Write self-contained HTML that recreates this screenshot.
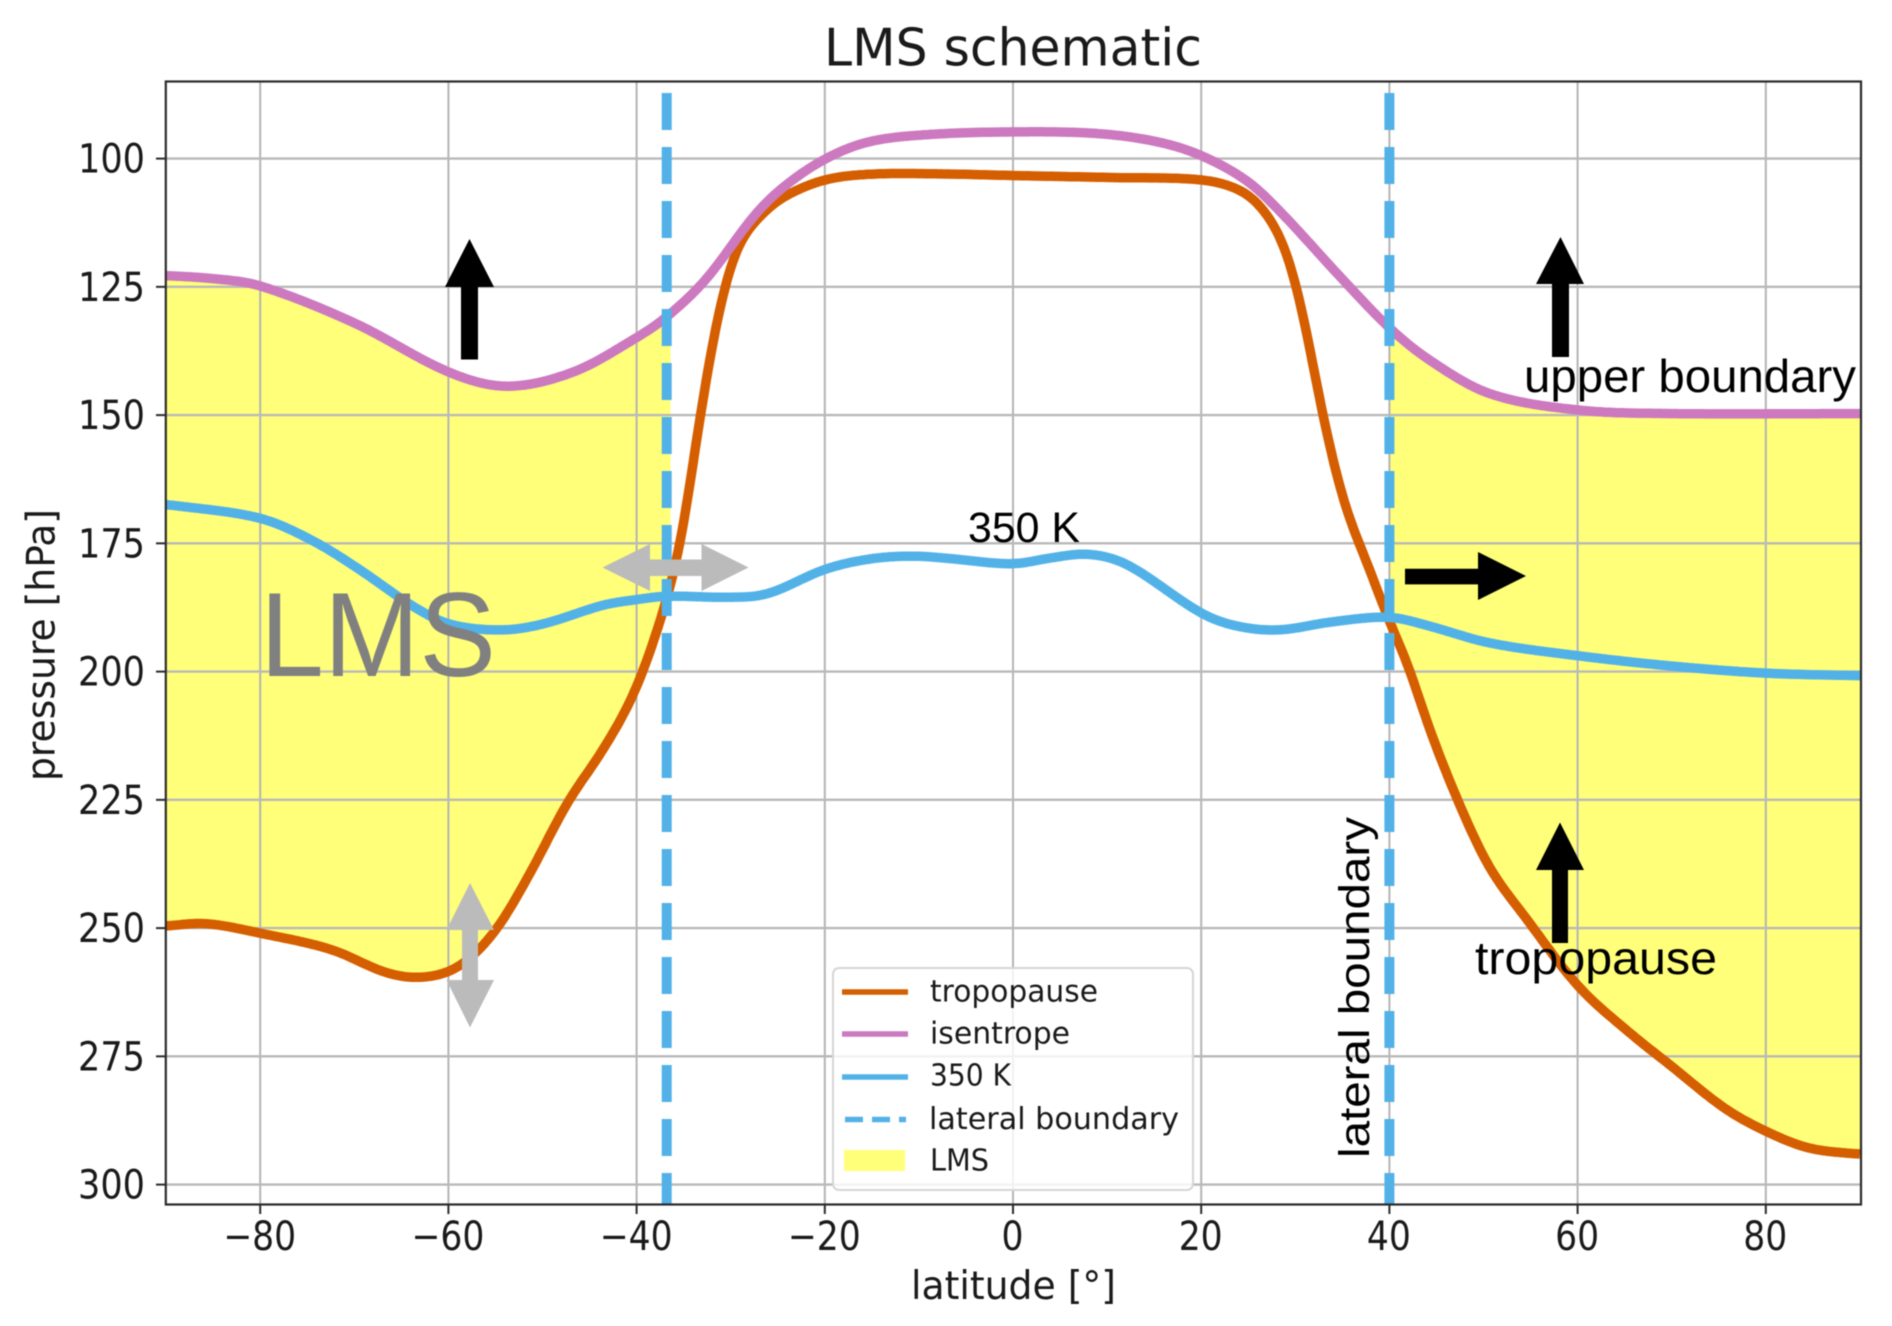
<!DOCTYPE html>
<html lang="en">
<head>
<meta charset="utf-8">
<title>LMS schematic</title>
<style>
  html, body { margin: 0; padding: 0; background: #ffffff; }
  body { width: 1892px; height: 1326px; overflow: hidden; }
  svg { display: block; filter: blur(0.6px); }
  text { font-family: "DejaVu Sans", "Liberation Sans", sans-serif; fill: #1a1a1a; }
  .note { font-family: "Liberation Sans", "DejaVu Sans", sans-serif; fill: #000000; }
</style>
</head>
<body>
<svg id="chart" xmlns="http://www.w3.org/2000/svg" width="1892" height="1326" viewBox="0 0 1892 1326">
  <defs>
    <clipPath id="plot-clip"><rect x="166" y="81" width="1695" height="1124"></rect></clipPath>
  </defs>
  <rect x="0" y="0" width="1892" height="1326" fill="#ffffff"></rect>
  <g id="fills" clip-path="url(#plot-clip)"></g>
  <g id="grid"></g>
  <g id="series" clip-path="url(#plot-clip)"></g>

  <g>
    <polygon fill="#000000" points="469.5,239 494,287 478,287 478,359.5 461,359.5 461,287 445,287"></polygon>
    <polygon fill="#000000" points="1560.5,237 1584,284 1569,284 1569,357 1552,357 1552,284 1536,284"></polygon>
    <polygon fill="#000000" points="1560,822.5 1584,870 1568,870 1568,943 1552,943 1552,870 1536,870"></polygon>
    <polygon fill="#000000" points="1526,576 1478,552 1478,568.7 1405,568.7 1405,584.4 1478,584.4 1478,600"></polygon>
    <polygon fill="#bbbbbb" points="602.5,567.5 650,544 650,559.5 701.5,559.5 701.5,544 748.5,567.5 701.5,591 701.5,576 650,576 650,591"></polygon>
    <polygon fill="#bbbbbb" points="470,883 494,930 478,930 478,980 494,980 470,1027.5 446.5,980 462,980 462,930 446.5,930"></polygon>
  </g>

  <text class="note" x="260" y="676" font-size="120" textLength="236" lengthAdjust="spacingAndGlyphs" style="fill:#808080">LMS</text>
  <text class="note" x="968" y="542" font-size="43" textLength="112" lengthAdjust="spacingAndGlyphs">350 K</text>
  <text class="note" x="1524" y="392" font-size="46" textLength="332" lengthAdjust="spacingAndGlyphs">upper boundary</text>
  <text class="note" x="1475" y="974" font-size="46" textLength="242" lengthAdjust="spacingAndGlyphs">tropopause</text>
  <text class="note" transform="translate(1369,1158) rotate(-90)" x="0" y="0" font-size="43" textLength="341" lengthAdjust="spacingAndGlyphs">lateral boundary</text>

  <g id="ticks"></g>

  <g>
    <rect x="833" y="968" width="360" height="222" rx="6" ry="6" fill="#ffffff" fill-opacity="0.82" stroke="#d6d6d6" stroke-width="2"></rect>
    <g>
      <line x1="842" x2="908" y1="992" y2="992" stroke="#d55e00" stroke-width="5.5"></line>
      <text x="930" y="1001.5" font-size="30" textLength="168" lengthAdjust="spacingAndGlyphs">tropopause</text>
    </g>
    <g>
      <line x1="842" x2="908" y1="1034" y2="1034" stroke="#cc79c0" stroke-width="5.5"></line>
      <text x="930" y="1043.5" font-size="30" textLength="140" lengthAdjust="spacingAndGlyphs">isentrope</text>
    </g>
    <g>
      <line x1="842" x2="908" y1="1077" y2="1077" stroke="#52b2e8" stroke-width="5.5"></line>
      <text x="930" y="1085.5" font-size="30" textLength="81" lengthAdjust="spacingAndGlyphs">350 K</text>
    </g>
    <g>
      <line x1="845" x2="906" y1="1119.5" y2="1119.5" stroke="#52b2e8" stroke-width="5.5" stroke-dasharray="18 9"></line>
      <text x="929" y="1129" font-size="30" textLength="250" lengthAdjust="spacingAndGlyphs">lateral boundary</text>
    </g>
    <g>
      <rect x="844" y="1150" width="61" height="21" fill="#ffff7a"></rect>
      <text x="930" y="1170.5" font-size="30" textLength="59" lengthAdjust="spacingAndGlyphs">LMS</text>
    </g>
  </g>

  <rect x="165.8" y="81.5" width="1695.2" height="1123" fill="none" stroke="#2b2b2b" stroke-width="2.2"></rect>

  <text x="824" y="65.5" font-size="52" textLength="378" lengthAdjust="spacingAndGlyphs">LMS schematic</text>
  <text x="911" y="1299" font-size="39" textLength="205" lengthAdjust="spacingAndGlyphs">latitude [°]</text>
  <text transform="translate(54.5,781) rotate(-90)" x="0" y="0" font-size="39" textLength="272" lengthAdjust="spacingAndGlyphs">pressure [hPa]</text>
</svg>

<script>
// ---- Chart data ----
const xTickValues = [-80, -60, -40, -20, 0, 20, 40, 60, 80];
const yTickValues = [100, 125, 150, 175, 200, 225, 250, 275, 300];
const boundaryLatitudes = [-36.8, 40];
const fillRanges = [[-90, -36.4], [40, 90]];

const isentropeLat = [-90, -85, -80, -69.8, -60, -53.8, -46.7, -40.1, -36.9, -32.6, -27.5, -24.3, -19.9, -15.3, -8.9, 0, 8.9, 15.3, 20, 25, 28.8, 34.6, 40, 44.2, 50.6, 60, 69.9, 90];
const isentropeP = [122.8, 123.4, 124.8, 132.2, 141.6, 144.4, 141.6, 135, 131, 123.5, 111.1, 105.4, 100, 96.7, 95.3, 94.8, 95.1, 96.7, 99.4, 104.5, 111.1, 122.7, 133, 139.2, 145.8, 149, 149.7, 149.7];

const tropopauseLat = [-90, -85.8, -80, -72.4, -66.6, -62.8, -58.9, -55, -51.2, -47.4, -43.5, -40.1, -37.1, -35.2, -33.3, -31.3, -29.4, -26.8, -24.3, -19.9, -14.7, -7.1, 0, 10.8, 19.8, 23.7, 26.2, 28.8, 30.7, 33, 35.2, 37.8, 40, 41.9, 44.2, 47.4, 50.6, 54.5, 60, 65.4, 69.9, 75.6, 80, 84.6, 90];
const tropopauseP = [249.6, 249.1, 251, 254.2, 258.7, 259.6, 257.5, 250.5, 238.9, 225.7, 215, 203.5, 187.8, 173.8, 150.7, 130.1, 117.7, 111.1, 107.4, 104.1, 103, 103, 103.3, 103.7, 104.1, 105.8, 109.1, 116.9, 129.3, 150.7, 167.2, 179.6, 190.3, 198.3, 210.9, 225.7, 238.1, 248, 261.2, 270.2, 276.8, 285.1, 289.6, 292.9, 294.1];

const k350Lat = [-90, -80, -74.3, -69.2, -64, -60, -54.4, -49.9, -43.5, -40.1, -36.9, -30.7, -26.2, -19.9, -14.7, -10.2, -7.1, 0, 3.8, 8, 12.1, 20, 23.7, 28.2, 33.9, 40, 44.2, 50.6, 60, 69.9, 80, 90];
const k350P = [167.4, 170.1, 174.6, 180.4, 187, 190.7, 191.9, 190.7, 187, 186, 185.3, 185.5, 184.9, 180, 177.9, 177.5, 177.9, 179, 177.9, 177.1, 179.1, 188.6, 191.1, 191.9, 190.3, 189.4, 191.1, 194.4, 196.9, 198.9, 200.3, 200.8];

// ---- Axis functions ----
const SVG_NS = 'http://www.w3.org/2000/svg';
function xScale(lat) { return 1013 + lat * 9.41; }
function yScale(p) { return 158.6 + (p - 100) * 5.13; }

function mk(tag, attrs, parent) {
  const el = document.createElementNS(SVG_NS, tag);
  for (const k in attrs) el.setAttribute(k, attrs[k]);
  parent.appendChild(el);
  return el;
}

// Hermite interpolation between the read points, used only for curve rendering
function hermite(lats, vals, lat) {
  const n = lats.length;
  lat = Math.max(lats[0], Math.min(lats[n - 1], lat));
  let i = 0;
  while (i < n - 2 && lat > lats[i + 1]) i++;
  const h = lats[i + 1] - lats[i];
  const t = (lat - lats[i]) / h;
  const slope = function (j) {
    if (j <= 0) return (vals[1] - vals[0]) / (lats[1] - lats[0]);
    if (j >= n - 1) return (vals[n - 1] - vals[n - 2]) / (lats[n - 1] - lats[n - 2]);
    return (vals[j + 1] - vals[j - 1]) / (lats[j + 1] - lats[j - 1]);
  };
  const m0 = slope(i), m1 = slope(i + 1);
  const t2 = t * t, t3 = t2 * t;
  return (2 * t3 - 3 * t2 + 1) * vals[i] + (t3 - 2 * t2 + t) * h * m0 + (-2 * t3 + 3 * t2) * vals[i + 1] + (t3 - t2) * h * m1;
}

// Triangular-window averaging removes corners at the read points
function smooth(lats, vals, lat) {
  const win = 1.6;
  let sum = 0, wsum = 0;
  for (let d = -win; d <= win + 1e-6; d += 0.2) {
    const w = win + 0.2 - Math.abs(d);
    sum += w * hermite(lats, vals, lat + d);
    wsum += w;
  }
  return sum / wsum;
}

function sampleCurve(lats, vals, from, to) {
  const pts = [];
  const step = 0.2;
  for (let lat = from; lat < to; lat += step) {
    pts.push(xScale(lat).toFixed(1) + ',' + yScale(smooth(lats, vals, lat)).toFixed(1));
  }
  pts.push(xScale(to).toFixed(1) + ',' + yScale(smooth(lats, vals, to)).toFixed(1));
  return pts;
}

const gridGroup = document.getElementById('grid');
const tickGroup = document.getElementById('ticks');
const fillGroup = document.getElementById('fills');
const seriesGroup = document.getElementById('series');

// ---- Grid and ticks ----
xTickValues.forEach(function (v) {
  const x = xScale(v);
  const gridLine = mk('line', { x1: x, x2: x, y1: 81, y2: 1204, stroke: '#b4b4b4', 'stroke-width': 2 }, gridGroup);
  
  
  const tick = mk('line', { x1: x, x2: x, y1: 1204, y2: 1214, stroke: '#2b2b2b', 'stroke-width': 2 }, tickGroup);
  
  
  const s = (v < 0 ? '\u2212' : '') + Math.abs(v);
  const w = String(Math.abs(v)).length * 22 + (v < 0 ? 29 : 0);
  const label = mk('text', { x: x - 0.5, y: 1250, 'font-size': 40, 'text-anchor': 'middle', textLength: w, lengthAdjust: 'spacingAndGlyphs' }, tickGroup);
  label.textContent = s;
  
  
});

yTickValues.forEach(function (v) {
  const y = yScale(v);
  const gridLine = mk('line', { x1: 166, x2: 1861, y1: y, y2: y, stroke: '#b9b9b9', 'stroke-width': 2.4 }, gridGroup);
  
  
  const tick = mk('line', { x1: 156, x2: 166, y1: y, y2: y, stroke: '#2b2b2b', 'stroke-width': 2 }, tickGroup);
  
  
  const label = mk('text', { x: 145, y: y + 14, 'font-size': 40, 'text-anchor': 'end', textLength: 67, lengthAdjust: 'spacingAndGlyphs' }, tickGroup);
  label.textContent = String(v);
  
  
});

// ---- LMS fill between the isentrope and the tropopause ----
fillRanges.forEach(function (r) {
  const upper = sampleCurve(isentropeLat, isentropeP, r[0], r[1]);
  const lower = sampleCurve(tropopauseLat, tropopauseP, r[0], r[1]).reverse();
  const area = mk('polygon', { points: upper.concat(lower).join(' '), fill: '#ffff7a' }, fillGroup);
  
  
});

// ---- Series lines ----
const tropopauseLine = mk('polyline', { points: sampleCurve(tropopauseLat, tropopauseP, -90, 90).join(' '), fill: 'none', stroke: '#d55e00', 'stroke-width': 9.5, 'stroke-linejoin': 'round' }, seriesGroup);



const isentropeLine = mk('polyline', { points: sampleCurve(isentropeLat, isentropeP, -90, 90).join(' '), fill: 'none', stroke: '#cc79c0', 'stroke-width': 9.5, 'stroke-linejoin': 'round' }, seriesGroup);



const k350Line = mk('polyline', { points: sampleCurve(k350Lat, k350P, -90, 90).join(' '), fill: 'none', stroke: '#52b2e8', 'stroke-width': 9.5, 'stroke-linejoin': 'round' }, seriesGroup);



boundaryLatitudes.forEach(function (lat) {
  const x = xScale(lat);
  const boundary = mk('line', { x1: x, x2: x, y1: 93, y2: 1204, stroke: '#52b2e8', 'stroke-width': 10, 'stroke-dasharray': '37 17' }, seriesGroup);
  
  
});
</script>
</body>
</html>
